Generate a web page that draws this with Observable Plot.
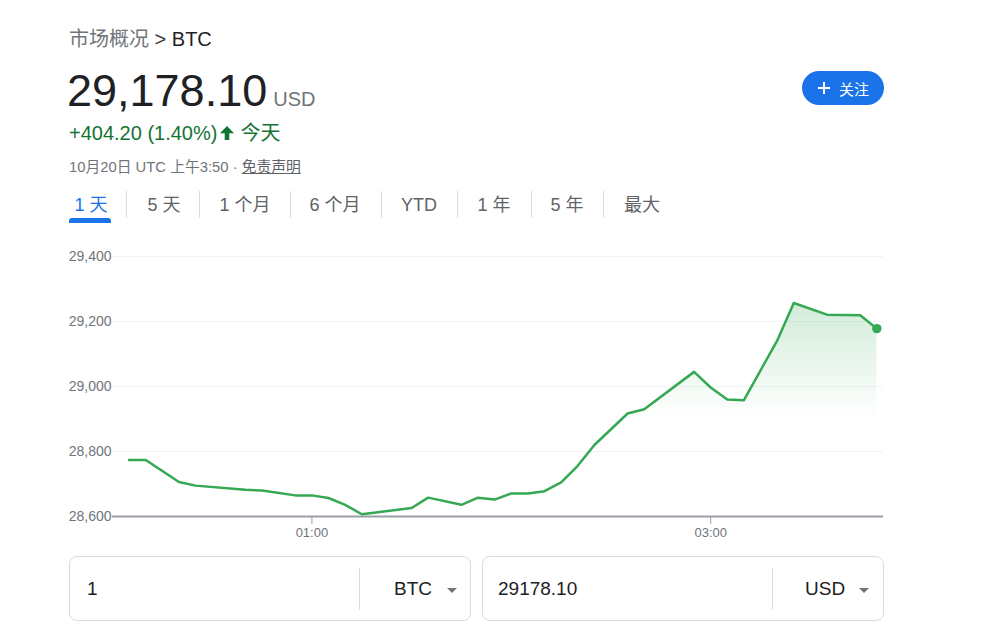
<!DOCTYPE html>
<html><head><meta charset="utf-8">
<script src="https://cdn.jsdelivr.net/npm/d3@7"></script>
<script src="https://cdn.jsdelivr.net/npm/@observablehq/plot@0.6"></script>
<style>
html,body{margin:0;padding:0;background:#fff;}
body{width:996px;height:638px;position:relative;overflow:hidden;font-family:"Liberation Sans",Arial,"Noto Sans CJK SC",sans-serif;}
.a{position:absolute;white-space:nowrap;}
.tab{position:absolute;top:196px;font-size:18px;line-height:18px;color:#5f6368;transform:translateX(-50%);white-space:nowrap;}
.sep{position:absolute;top:191px;width:1px;height:27px;background:#dadce0;}
.box{position:absolute;top:556px;width:402px;height:65px;box-sizing:border-box;border:1px solid #dadce0;border-radius:8px;}
.vsep{position:absolute;top:568px;width:1px;height:42px;background:#dadce0;}
.ct{position:absolute;top:579px;font-size:19px;line-height:19px;color:#202124;white-space:nowrap;}
.tri{position:absolute;top:588px;width:0;height:0;border-left:5.5px solid transparent;border-right:5.5px solid transparent;border-top:5.5px solid #757575;}
</style></head>
<body>
<div class="a" style="left:69px;top:29px;font-size:20px;line-height:20px;"><span style="color:#70757a">市场概况</span><span style="color:#3c4043"> &gt; </span><span style="color:#202124">BTC</span></div>
<div class="a" style="left:67px;top:68px;font-size:45px;line-height:45px;color:#202124;">29,178.10<span style="font-size:20px;color:#70757a;margin-left:6px;">USD</span></div>
<div class="a" style="left:69px;top:123px;font-size:20px;line-height:20px;color:#137333;">+404.20 (1.40%)<svg width="14" height="14" viewBox="0 0 14 14" style="vertical-align:0px;margin-left:3px;"><path fill="#137333" d="M7 0L14 7.2H9.3V14H4.7V7.2H0Z"/></svg><span style="margin-left:6px;">今天</span></div>
<div class="a" style="left:69px;top:160px;font-size:14.8px;line-height:14.8px;color:#70757a;">10月20日 UTC 上午3:50 · <span style="text-decoration:underline;color:#5f6368;">免责声明</span></div>

<div class="a" style="left:802px;top:71px;width:82px;height:34px;border-radius:17px;background:#1a73e8;display:flex;align-items:center;color:#fff;font-size:15px;">
  <svg width="14" height="14" viewBox="0 0 14 14" style="margin-left:15px;"><path d="M7 1v12M1 7h12" stroke="#fff" stroke-width="2"/></svg>
  <span style="margin-left:8px;">关注</span>
</div>

<div class="tab" style="left:91px;color:#1a73e8;">1 天</div>
<div class="sep" style="left:126px;"></div>
<div class="tab" style="left:164px;">5 天</div>
<div class="sep" style="left:199px;"></div>
<div class="tab" style="left:245px;">1 个月</div>
<div class="sep" style="left:290px;"></div>
<div class="tab" style="left:335px;">6 个月</div>
<div class="sep" style="left:381px;"></div>
<div class="tab" style="left:419px;">YTD</div>
<div class="sep" style="left:457px;"></div>
<div class="tab" style="left:494px;">1 年</div>
<div class="sep" style="left:531px;"></div>
<div class="tab" style="left:567px;">5 年</div>
<div class="sep" style="left:603px;"></div>
<div class="tab" style="left:642px;">最大</div>
<div class="a" style="left:69px;top:218px;width:42px;height:5px;background:#1a73e8;border-radius:3px 3px 0 0;"></div>

<div id="chart" class="a" style="left:0;top:240px;"></div>

<div class="box" style="left:69px;"></div>
<div class="ct" style="left:87px;">1</div>
<div class="vsep" style="left:359px;"></div>
<div class="ct" style="left:394px;">BTC</div>
<div class="tri" style="left:447px;"></div>
<div class="box" style="left:482px;"></div>
<div class="ct" style="left:498px;">29178.10</div>
<div class="vsep" style="left:772px;"></div>
<div class="ct" style="left:805px;">USD</div>
<div class="tri" style="left:859px;"></div>

<script>
// BTC price, 5‑minute samples (UTC), 20 Oct
const times  = ["00:05","00:10","00:20","00:25","00:40","00:45","00:55","01:00","01:05","01:10","01:15","01:30","01:35","01:45","01:50","01:55","02:00","02:05","02:10","02:15","02:20","02:25","02:35","02:40","02:55","03:00","03:05","03:10","03:20","03:25","03:35","03:45","03:50"];
const prices = [28774,28774,28706,28695,28682,28680,28665,28665,28657,28636,28607,28626,28658,28636,28658,28652,28671,28671,28678,28705,28756,28820,28917,28930,29045,28997,28960,28958,29141,29257,29221,29219,29178.10];
const yTicks = [28600, 28800, 29000, 29200, 29400];
const xTicks = ["01:00", "03:00"];
const xDomain = ["00:00", "03:52"];

const parse = d3.utcParse("%H:%M");
const data = times.map((t, i) => ({t: parse(t), v: prices[i]}));
const fontFam = '"Liberation Sans", Arial, "Noto Sans CJK SC", sans-serif';

const chart = Plot.plot({
  width: 996, height: 300,
  marginLeft: 112, marginRight: 113, marginTop: 16, marginBottom: 24,
  x: {type: "utc", domain: xDomain.map(parse), label: null},
  y: {domain: [yTicks[0], yTicks[yTicks.length - 1]], label: null},
  style: {fontFamily: fontFam, fontSize: "13px", color: "#70757a", background: "transparent", overflow: "visible"},
  marks: [
    Plot.ruleY(yTicks.slice(1), {stroke: "#f1f3f4", strokeWidth: 1}),
    Plot.areaY(data, {x: "t", y1: yTicks[0], y2: "v", fill: "url(#btcFade)"}),
    Plot.ruleY([yTicks[0]], {stroke: "#9aa0a6", strokeWidth: 2}),
    Plot.axisY({ticks: yTicks, tickSize: 0, tickPadding: 1, tickFormat: d3.format(","), fontSize: 14, color: "#70757a", label: null}),
    Plot.axisX({ticks: xTicks.map(parse), tickSize: 8, tickPadding: 3, tickFormat: d3.utcFormat("%H:%M"), fontSize: 13, color: "#70757a", stroke: "#9aa0a6", label: null}),
    Plot.lineY(data, {x: "t", y: "v", stroke: "#34a853", strokeWidth: 2.5}),
    Plot.dot(data.slice(-1), {x: "t", y: "v", r: 4.7, fill: "#34a853"})
  ]
});

const defs = d3.select(chart).insert("defs", ":first-child");
const grad = defs.append("linearGradient").attr("id", "btcFade").attr("x1", 0).attr("y1", 0).attr("x2", 0).attr("y2", 1);
grad.append("stop").attr("offset", "0%").attr("stop-color", "#34a853").attr("stop-opacity", 0.22);
grad.append("stop").attr("offset", "55%").attr("stop-color", "#34a853").attr("stop-opacity", 0);
document.getElementById("chart").appendChild(chart);
</script>
</body></html>
